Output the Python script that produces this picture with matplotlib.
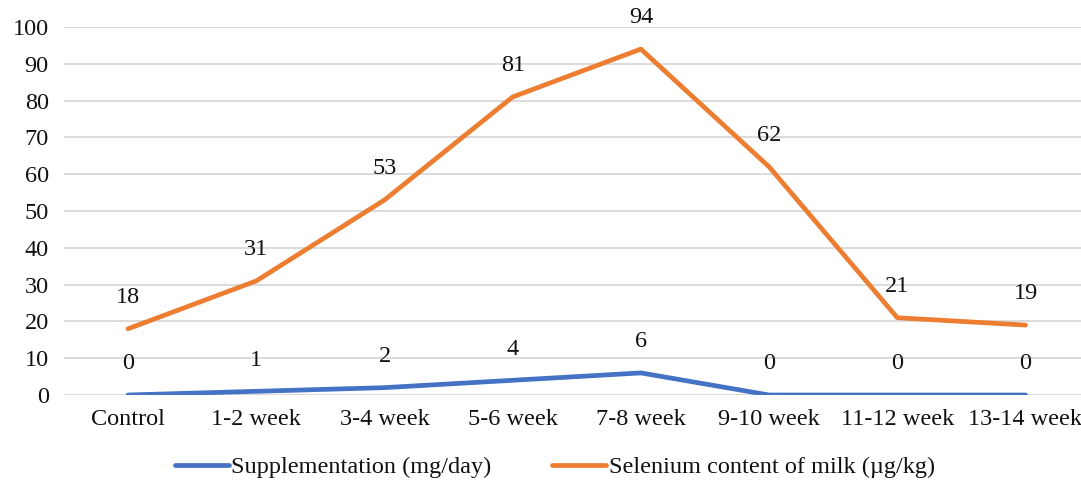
import matplotlib
matplotlib.use("Agg")
import matplotlib.pyplot as plt

categories = ["Control", "1-2 week", "3-4 week", "5-6 week", "7-8 week",
              "9-10 week", "11-12 week", "13-14 week"]
supplementation = [0, 1, 2, 4, 6, 0, 0, 0]
selenium = [18, 31, 53, 81, 94, 62, 21, 19]

plt.rcParams['font.family'] = ['Liberation Serif', 'DejaVu Serif']
FS = 17.5
TC = "#111111"

fig = plt.figure(figsize=(10.81, 4.83), dpi=100)
ax = fig.add_axes([64/1081, 1-395/483, 1025.6/1081, (395-27)/483])

x = list(range(len(categories)))
l1, = ax.plot(x, supplementation, color="#4472C4", lw=3.4, solid_capstyle="round",
              label="Supplementation (mg/day)")
l2, = ax.plot(x, selenium, color="#ED7D31", lw=3.4, solid_capstyle="round",
              label="Selenium content of milk (µg/kg)")

for xi, v in zip(x, supplementation):
    ax.annotate(str(v), (xi, v), xytext=(0, 22.5), textcoords="offset points",
                ha="center", va="center", fontsize=FS, color=TC)
for xi, v in zip(x, selenium):
    ax.annotate(str(v), (xi, v), xytext=(0, 22.5), textcoords="offset points",
                ha="center", va="center", fontsize=FS, color=TC)

ax.set_xlim(-0.5, len(categories) - 0.5)
ax.set_ylim(0, 100)
ax.set_yticks(range(0, 101, 10))
ax.set_xticks(x)
ax.set_xticklabels(categories)
ax.tick_params(axis="both", length=0, labelsize=FS, colors=TC)
ax.tick_params(axis="y", pad=11)
ax.tick_params(axis="x", pad=10)
ax.grid(axis="y", color="#d9d9d9", lw=1.3)
ax.set_axisbelow(True)
for s in ax.spines.values():
    s.set_visible(False)

fig.legend(handles=[l1, l2], loc="center", bbox_to_anchor=(555/1081, 1-467/483),
           ncol=2, frameon=False, fontsize=FS, handlelength=2.2,
           handletextpad=0.12, columnspacing=2.5, labelcolor=TC)

fig.savefig("out.png", dpi=100)
